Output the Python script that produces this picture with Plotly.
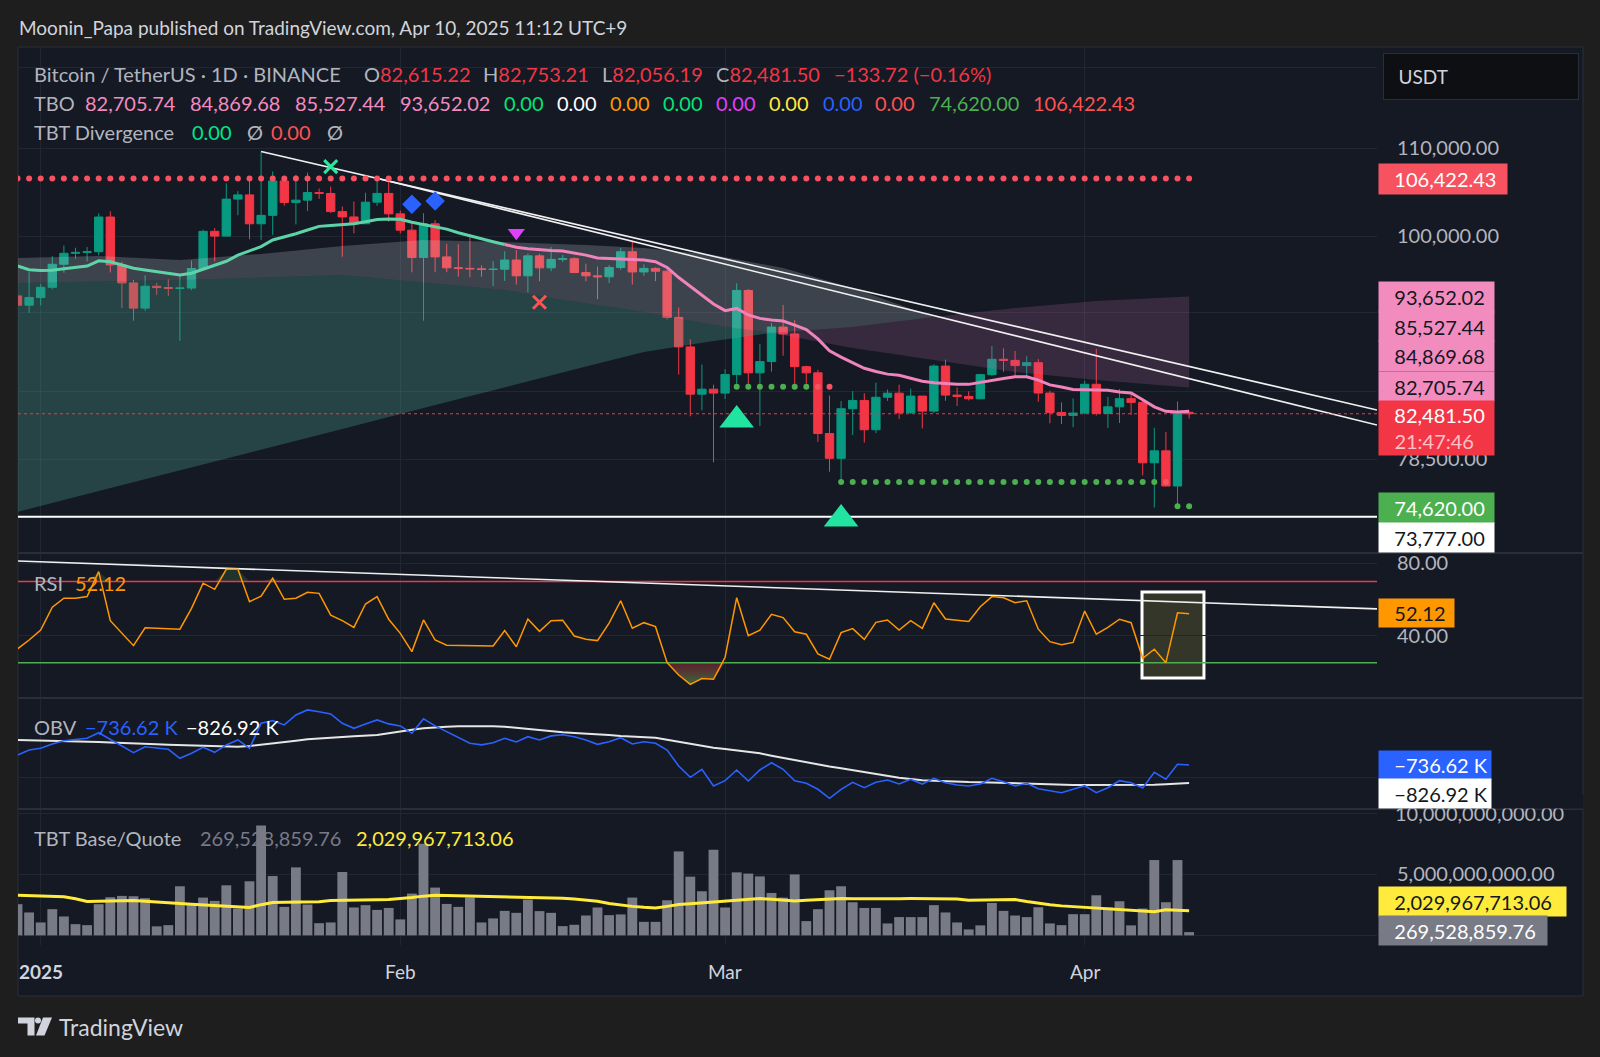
import pandas as pd
import plotly.graph_objects as go

# ---------------- data ----------------
dates = pd.date_range("2024-12-30", "2025-04-10", freq="D")

opens = [93716, 92779,
         93548, 94591, 96984, 98142, 98236, 98314, 102078, 96922, 95043, 92485, 94701, 94566, 94488, 94516, 96534,
         100505, 99987, 104077, 104556, 101331, 102260, 106144, 103706, 103960, 104820, 104714, 102682, 102087,
         101332, 103733, 104722,
         102429, 100635, 97700, 101328, 97763, 96612, 96554, 96506, 96444, 96462, 97430, 95778, 97870, 96608,
         97500, 97569, 96118, 95780, 95671, 96644, 98305, 96181, 96551, 96258, 91552, 88680, 84250, 84708,
         84349, 86064, 94270, 86221, 87281, 90606, 89931, 86801, 86222, 80734, 78595, 82932, 83680, 81066, 83968,
         84343, 82579, 84075, 82718, 86855, 84167, 84043, 83832, 86054, 87498, 87391, 86900, 87177, 84353, 82598,
         82335,
         82548, 85159, 82516, 83102, 83844, 83504, 78214, 79235, 76272, 82615.22]
highs = [94903, 96150,
         94950, 97839, 98976, 98734, 98813, 102482, 102712, 97258, 95349, 95836, 95051, 95400, 95900, 97371,
         100681, 100870, 105865, 104988, 106422.43, 109588, 107240, 106394, 106850, 107120, 105286, 105500,
         103260, 103800, 104800, 106457, 106012,
         102783, 101456, 102500, 101744, 99149, 99120, 100137, 96880, 97323, 98345, 98478, 98119, 98083, 98826,
         97972, 97725, 97046, 96753, 96899, 98711, 99475, 96980, 96650, 96500, 92540, 89414, 87000, 85120,
         86558, 95000, 94416, 88968, 91000, 92810, 91283, 86897, 86500, 84123, 83617, 84539, 84336, 85309, 84673,
         85117, 84756, 84075, 87022, 87454, 84850, 84513, 86129, 88766, 88543, 88292, 87786, 87515, 84567, 83505,
         83870,
         85487, 88500, 83998, 84720, 84229, 83750, 81243, 80867, 83588, 82753.21]
lows = [91317, 92000,
        92750, 94392, 96100, 97562, 97280, 97926, 96132, 92500, 91220, 92207, 93831, 93712, 89256, 94305, 96500,
        97300, 99950, 102277, 99651, 99550, 100119, 103339, 101262, 102750, 104106, 102520, 97777, 100272,
        101328, 103321, 101560,
        100279, 96150, 91231, 96150, 96155, 95676, 95620, 95689, 94713, 95256, 94876, 94088, 95217, 96253,
        97224, 96055, 95205, 93388, 95029, 96415, 94871, 95770, 95227, 91349, 86050, 82256, 82786, 78258,
        83824, 85050, 85117, 81390, 86334, 87836, 84667, 85218, 80000, 77459, 76606, 80607, 79940, 80766, 83639,
        82018, 82457, 81180, 82547, 83655, 83175, 83674, 83794, 85946, 86312, 85861, 85837, 83557, 81634, 81565,
        81293,
        82432, 82320, 81211, 81659, 82364, 77153, 74508, 76239, 74620, 82056.19]
closes = [92779, 93548,
          94591, 96984, 98142, 98236, 98314, 102078, 96922, 95043, 92485, 94701, 94566, 94488, 94516, 96534,
          100505, 99987, 104077, 104556, 101331, 102260, 106144, 103706, 103960, 104820, 104714, 102682, 102087,
          101332, 103733, 104722, 102429,
          100635, 97700, 101328, 97763, 96612, 96554, 96506, 96444, 96462, 97430, 95778, 97870, 96608, 97500,
          97569, 96118, 95780, 95671, 96644, 98305, 96181, 96551, 96258, 91552, 88680, 84250, 84708, 84349,
          86064, 94270, 86220, 87281, 90606, 89931, 86801, 86222, 80734, 78595, 82932, 83680, 81066, 83968, 84343,
          82579, 84075, 82718, 86854, 84167, 84043, 83832, 86054, 87498, 87391, 86900, 87177, 84353, 82598, 82335,
          82548,
          85159, 82516, 83102, 83843, 83504, 78214, 79235, 76272, 82615.22, 82481.50]

tbo_fast = [96800, 96420, 96320, 96350, 96520, 96650, 96800, 97350, 97250, 96900, 96560, 96380, 96200, 96000,
            95860, 96050, 96450, 96850, 97300, 97950, 98400, 98850, 99570, 99900, 100250, 100650, 101050, 101150,
            101230, 101330, 101550, 101800, 101850, 101830, 101500, 101250, 101050, 100750, 100350, 100000, 99700,
            99380, 99080, 98780, 98620, 98500, 98440, 98380, 98200, 97950, 97650, 97610, 97580, 97510, 97420,
            97250, 96650, 95600, 94700, 93800, 92900, 92230, 92450, 91800, 91460, 91300, 91200, 90800, 90350,
            89450, 88300, 87700, 87200, 86650, 86350, 86100, 86000, 85700, 85440, 85300, 85220, 85150, 85150,
            85350, 85550, 85700, 85850, 85850, 85550, 85100, 84900, 84680, 84650, 84650, 84600, 84450, 84360,
            83750, 83100, 82700, 82640, 82705.74]
FAST_SWITCH = 42  # index where the fast line turns from teal to pink

# cloud boundaries (day offset from 2025-01-01, price)
slow_days = [-2, 5, 12, 19, 26, 33, 40, 47, 52, 58, 63, 70, 77, 84, 91, 99]
slow_vals = [74160, 75860, 77610, 79350, 81130, 83000, 84910, 86810, 88190, 89250, 90020, 90610, 91600,
             92500, 93200, 93652.02]
medb_days = [-2, 12, 26, 40, 45, 52, 58, 63, 70, 77, 84, 91, 99]
medb_vals = [95040, 95350, 95860, 94320, 93300, 92100, 90810, 90020, 88570, 87430, 86300, 85560, 84869.68]
meda_days = [-2, 5, 12, 19, 26, 33, 40, 47, 52, 58, 64, 70, 77]
meda_vals = [97640, 97860, 97430, 98070, 98920, 99570, 99350, 99030, 98710, 97960, 96590, 94520, 91600]
CROSS_DAY = 63

rsi = [32.7, 37.6,
       43.1, 55.7, 60.7, 60.7, 61.6, 75.4, 48.3, 41.3, 34.5, 44.4, 44.0, 43.8, 43.6, 55.1, 69.0, 65.6, 76.7, 76.7,
       58.8, 61.9, 71.7, 60.1, 60.7, 64.0, 63.4, 51.4, 48.3, 44.6, 57.5, 61.6, 49.1,
       41.3, 31.2, 48.7, 37.6, 34.7, 34.5, 34.5, 34.3, 34.3, 42.8, 33.9, 49.2, 42.4, 48.3, 48.5, 39.8, 38.0, 37.3,
       46.9, 59.3, 44.1, 47.2, 45.0, 25.1, 18.3, 13.1, 16.3, 15.9,
       28.1, 61.0, 40.0, 43.1, 51.8, 50.0, 42.2, 40.8, 29.9, 27.0, 41.7, 43.9, 38.0, 47.4, 48.7, 43.1, 48.3, 44.1,
       58.2, 49.2, 48.7, 47.8, 56.0, 61.6, 61.0, 58.2, 59.3, 43.6, 36.7, 35.0, 36.3,
       53.6, 40.8, 44.6, 49.1, 47.2, 27.5, 32.5, 25.1, 52.7, 52.12]
RSI_UPPER, RSI_LOWER = 70, 25
rsi_trend = [81.3, 54.8]

obv = [-686.5, -661.5,
       -653, -631.5, -615, -608, -603, -575, -608, -641.5, -675, -645, -650, -658, -703, -678, -648, -673, -636,
       -611, -653, -528, -515, -536, -486, -461, -470, -481, -528, -553, -531, -511, -531,
       -541, -578, -506, -541, -570, -595, -628, -636, -625, -603, -621, -595, -611, -591, -585, -595, -611, -633,
       -620, -600, -631.5, -620, -628, -661.5, -741.5, -798, -758, -841.5,
       -815, -761.5, -816.5, -761.5, -725, -758, -815, -828, -858, -903, -858, -823, -850, -823, -811.5, -831.5,
       -808, -831.5, -803, -825, -836.5, -841.5, -831.5, -803, -820, -841.5, -828, -855, -865, -875, -858,
       -840, -875, -850, -815, -825, -851.5, -773, -808, -733, -736.62]
obv_ma = [-611, -612,
          -613, -614, -615, -617, -619, -621, -624, -627, -630, -632, -633, -635, -637, -639, -641, -643, -644,
          -645, -642, -636, -629, -622, -615, -608, -603, -599, -596, -593, -590, -587, -578,
          -568, -560, -553, -548, -545, -543, -542, -542, -543, -545, -551, -557, -564, -570, -573, -576, -579,
          -582, -587, -592, -595, -597, -600, -610, -620, -630, -642, -650,
          -657, -664, -671, -678, -690, -701, -712, -724, -734, -744, -753, -763, -773, -783, -792, -800, -807,
          -813, -815, -818, -820, -822, -823, -825, -827, -829, -831, -833, -834, -835, -836,
          -837, -837, -837, -837, -836, -836, -835, -833, -830, -826.92]

volume_b = [2.56, 1.88,
            1.06, 2.15, 1.55, 0.92, 0.84, 2.56, 3.13, 3.24, 3.21, 3.05, 0.74, 0.84, 4.03, 2.61, 3.10, 2.83, 4.11,
            2.20, 4.44, 9.01, 4.87, 2.34, 5.58, 2.53, 1.00, 1.06, 5.20, 2.29, 2.48, 2.09, 2.25,
            1.31, 3.43, 7.52, 3.92, 2.58, 2.34, 3.10, 1.06, 1.39, 2.01, 1.85, 2.94, 1.99, 1.85, 0.76, 0.87, 1.63,
            2.29, 1.66, 1.72, 3.10, 1.11, 1.11, 2.88, 6.89, 4.82, 3.62, 7.03,
            2.29, 5.17, 5.07, 4.84, 3.48, 3.10, 5.00, 1.17, 2.15, 3.70, 4.03, 2.72, 2.25, 2.25, 0.98, 1.50, 1.50,
            1.50, 2.48, 1.88, 1.06, 0.49, 0.82, 2.66, 2.01, 1.63, 1.50, 2.31, 0.98, 0.84, 1.74,
            1.74, 3.29, 2.29, 2.80, 0.82, 2.20, 6.18, 2.72, 6.18, 0.2695288598]
volume_ma_b = [3.29, 3.27,
               3.24, 3.20, 3.17, 3.00, 2.78, 2.80, 2.84, 2.87, 2.86, 2.80, 2.72, 2.66, 2.61, 2.56, 2.50, 2.45,
               2.42, 2.38, 2.29, 2.52, 2.70, 2.72, 2.74, 2.75, 2.76, 2.86, 2.89, 2.90, 2.91, 2.92, 2.94,
               3.00, 3.10, 3.22, 3.29, 3.28, 3.26, 3.24, 3.22, 3.19, 3.16, 3.14, 3.12, 3.11, 3.10, 3.05, 2.98,
               2.90, 2.80, 2.62, 2.48, 2.38, 2.30, 2.25, 2.38, 2.53, 2.60, 2.67, 2.74,
               2.78, 2.88, 2.96, 3.02, 2.96, 2.88, 2.83, 2.88, 2.93, 2.98, 3.02, 3.00, 2.99, 2.97, 2.99, 3.01,
               3.02, 3.02, 3.01, 3.00, 2.99, 2.88, 2.90, 2.92, 2.93, 2.94, 2.78, 2.62, 2.52, 2.42, 2.36,
               2.30, 2.24, 2.18, 2.10, 2.02, 1.97, 1.93, 2.10, 2.08, 2.029967713]

# levels / signals
resistance_level = 106422.43
support_level = 73777.00
last_close = 82481.50
trend_a = [(19, 109588), (115.198, 82820)]
trend_b = [(29, 106457), (115.198, 81480)]
dots_mid_green = ([60, 61, 62, 63, 64, 65, 66], 84940)
dots_mid_red = ([67, 68], 84940)
dots_low_green = (list(range(69, 97)), 76606)
dots_low_red = ([97], 76606)
dots_last_green = ([98, 99], 74620)
sig_x_green = (25, 107800)
sig_diamonds = ([32, 34], [103490, 103870])
sig_tri_down = (41, 100360)
sig_x_red = (43, 93070)
sig_tri_up = ([60, 69], [81930, 73590])

date_ticks = ["2025-01-01", "2025-02-01", "2025-03-01", "2025-04-01"]
date_labels = ["<b>2025</b>", "Feb", "Mar", "Apr"]

for arr in (opens, highs, lows, closes, tbo_fast, rsi, obv, obv_ma, volume_b, volume_ma_b):
    assert len(arr) == len(dates), len(arr)

# ---------------- layout helpers ----------------
W, H = 1600, 1057
LP, RP, TP, BP = 18, 1377, 47, 945
FONT = "Lato, 'Noto Sans', sans-serif"
BG = "#151924"
OUT = "#1e1e1e"
GRID = "#222633"
TXT = "#b2b5be"


def px_x(x):
    return (x - LP) / (RP - LP)


def px_y(y):
    return (BP - y) / (BP - TP)


def day(d):
    return pd.Timestamp("2025-01-01") + pd.Timedelta(days=d)


X0 = day(-1.957)
X1 = day(115.198)

D_PRICE = [px_y(553), 1.0]
D_RSI = [px_y(698), px_y(553)]
D_OBV = [px_y(809), px_y(698)]
D_VOL = [0.0, px_y(809)]

fig = go.Figure()

# ---------------- price pane ----------------
fig.add_trace(go.Candlestick(
    x=dates, open=opens, high=highs, low=lows, close=closes,
    increasing=dict(line=dict(color="#089981", width=1), fillcolor="#089981"),
    decreasing=dict(line=dict(color="#f23645", width=1), fillcolor="#f23645"),
    whiskerwidth=0, xaxis="x", yaxis="y", showlegend=False, hoverinfo="skip"))


def poly(upper_d, upper_v, lower_d, lower_v, color):
    xs = [day(d) for d in upper_d] + [day(d) for d in lower_d[::-1]]
    ys = list(upper_v) + list(lower_v[::-1])
    fig.add_trace(go.Scatter(x=xs, y=ys, fill="toself", fillcolor=color, mode="lines",
                             line=dict(width=0), xaxis="x", yaxis="y", showlegend=False, hoverinfo="skip"))


# teal cloud (before cross) between medB and slow
tb_d = [d for d in medb_days if d <= CROSS_DAY]
tb_v = [v for d, v in zip(medb_days, medb_vals) if d <= CROSS_DAY]
ts_d = [d for d in slow_days if d <= CROSS_DAY]
ts_v = [v for d, v in zip(slow_days, slow_vals) if d <= CROSS_DAY]
poly(tb_d, tb_v, ts_d, ts_v, "rgba(80,170,150,0.30)")
# mauve cloud (after cross) between slow and medB
ms_d = [d for d in slow_days if d >= CROSS_DAY]
ms_v = [v for d, v in zip(slow_days, slow_vals) if d >= CROSS_DAY]
mb_d = [d for d in medb_days if d >= CROSS_DAY]
mb_v = [v for d, v in zip(medb_days, medb_vals) if d >= CROSS_DAY]
poly(ms_d, ms_v, mb_d, mb_v, "rgba(200,110,170,0.20)")
# light band between medA and (medB, then slow)
lo_d = [d for d in medb_days if d < CROSS_DAY] + [d for d in slow_days if CROSS_DAY <= d <= meda_days[-1]]
lo_v = [v for d, v in zip(medb_days, medb_vals) if d < CROSS_DAY] + \
       [v for d, v in zip(slow_days, slow_vals) if CROSS_DAY <= d <= meda_days[-1]]
poly(meda_days, meda_vals, lo_d, lo_v, "rgba(200,220,220,0.22)")

# trend lines
for seg in (trend_a, trend_b):
    fig.add_trace(go.Scatter(x=[day(seg[0][0]), day(seg[1][0])], y=[seg[0][1], seg[1][1]], mode="lines",
                             line=dict(color="#f0f0f0", width=1.6), xaxis="x", yaxis="y",
                             showlegend=False, hoverinfo="skip"))
# horizontal lines
fig.add_trace(go.Scatter(x=[X0, X1], y=[support_level] * 2, mode="lines", line=dict(color="#ffffff", width=2),
                         xaxis="x", yaxis="y", showlegend=False, hoverinfo="skip"))
fig.add_trace(go.Scatter(x=[X0, X1], y=[last_close] * 2, mode="lines",
                         line=dict(color="#f23645", width=1.2, dash="dot"),
                         xaxis="x", yaxis="y", showlegend=False, hoverinfo="skip"))
# resistance dots
fig.add_trace(go.Scatter(x=dates, y=[resistance_level] * len(dates), mode="markers",
                         marker=dict(color="#f7525f", size=6), xaxis="x", yaxis="y",
                         showlegend=False, hoverinfo="skip"))
# fast line
fig.add_trace(go.Scatter(x=dates[:FAST_SWITCH + 1], y=tbo_fast[:FAST_SWITCH + 1], mode="lines",
                         line=dict(color="#5fd3a8", width=3), xaxis="x", yaxis="y",
                         showlegend=False, hoverinfo="skip"))
fig.add_trace(go.Scatter(x=dates[FAST_SWITCH:], y=tbo_fast[FAST_SWITCH:], mode="lines",
                         line=dict(color="#f083bb", width=3), xaxis="x", yaxis="y",
                         showlegend=False, hoverinfo="skip"))
# support dots
for (ds, lvl), col in ((dots_mid_green, "#4caf50"), (dots_mid_red, "#f7525f"), (dots_low_green, "#4caf50"),
                       (dots_low_red, "#f7525f"), (dots_last_green, "#4caf50")):
    fig.add_trace(go.Scatter(x=[day(d) for d in ds], y=[lvl] * len(ds), mode="markers",
                             marker=dict(color=col, size=6), xaxis="x", yaxis="y",
                             showlegend=False, hoverinfo="skip"))
# signals
fig.add_trace(go.Scatter(x=[day(sig_x_green[0])], y=[sig_x_green[1]], mode="markers",
                         marker=dict(symbol="x-thin", size=13, line=dict(color="#2ee6a0", width=3)),
                         xaxis="x", yaxis="y", showlegend=False, hoverinfo="skip"))
fig.add_trace(go.Scatter(x=[day(d) for d in sig_diamonds[0]], y=sig_diamonds[1], mode="markers",
                         marker=dict(symbol="diamond", size=15, color="#2962ff"),
                         xaxis="x", yaxis="y", showlegend=False, hoverinfo="skip"))
fig.add_trace(go.Scatter(x=[day(sig_tri_down[0])], y=[sig_tri_down[1]], mode="markers",
                         marker=dict(symbol="triangle-down", size=15, color="#e040fb"),
                         xaxis="x", yaxis="y", showlegend=False, hoverinfo="skip"))
fig.add_trace(go.Scatter(x=[day(sig_x_red[0])], y=[sig_x_red[1]], mode="markers",
                         marker=dict(symbol="x-thin", size=13, line=dict(color="#ff5252", width=3)),
                         xaxis="x", yaxis="y", showlegend=False, hoverinfo="skip"))
fig.add_trace(go.Scatter(x=[day(d) for d in sig_tri_up[0]], y=sig_tri_up[1], mode="markers",
                         marker=dict(symbol="triangle-up", size=30, color="#22e4a0"),
                         xaxis="x", yaxis="y", showlegend=False, hoverinfo="skip"))

# ---------------- RSI pane ----------------
rsi_low_clip = [min(v, RSI_LOWER) for v in rsi]
rsi_high_clip = [max(v, RSI_UPPER) for v in rsi]
fig.add_trace(go.Scatter(x=dates, y=[RSI_LOWER] * len(dates), mode="lines", line=dict(width=0),
                         xaxis="x2", yaxis="y2", showlegend=False, hoverinfo="skip"))
fig.add_trace(go.Scatter(x=dates, y=rsi_low_clip, mode="lines", line=dict(width=0), fill="tonexty",
                         fillgradient=dict(type="vertical",
                                           colorscale=[[0, "rgba(76,175,80,0.55)"], [1, "rgba(242,54,69,0.30)"]]),
                         xaxis="x2", yaxis="y2", showlegend=False, hoverinfo="skip"))
fig.add_trace(go.Scatter(x=dates, y=[RSI_UPPER] * len(dates), mode="lines", line=dict(width=0),
                         xaxis="x2", yaxis="y2", showlegend=False, hoverinfo="skip"))
fig.add_trace(go.Scatter(x=dates, y=rsi_high_clip, mode="lines", line=dict(width=0), fill="tonexty",
                         fillcolor="rgba(76,175,80,0.18)",
                         xaxis="x2", yaxis="y2", showlegend=False, hoverinfo="skip"))
fig.add_trace(go.Scatter(x=[X0, X1], y=[RSI_UPPER] * 2, mode="lines", line=dict(color="#f23645", width=1.5),
                         xaxis="x2", yaxis="y2", showlegend=False, hoverinfo="skip"))
fig.add_trace(go.Scatter(x=[X0, X1], y=[RSI_LOWER] * 2, mode="lines", line=dict(color="#4caf50", width=1.5),
                         xaxis="x2", yaxis="y2", showlegend=False, hoverinfo="skip"))
fig.add_trace(go.Scatter(x=[X0, X1], y=rsi_trend, mode="lines", line=dict(color="#f0f0f0", width=1.6),
                         xaxis="x2", yaxis="y2", showlegend=False, hoverinfo="skip"))
fig.add_trace(go.Scatter(x=dates, y=rsi, mode="lines", line=dict(color="#ff9800", width=1.5),
                         xaxis="x2", yaxis="y2", showlegend=False, hoverinfo="skip"))

# ---------------- OBV pane ----------------
fig.add_trace(go.Scatter(x=dates, y=obv_ma, mode="lines", line=dict(color="#e6e6e6", width=2),
                         xaxis="x3", yaxis="y3", showlegend=False, hoverinfo="skip"))
fig.add_trace(go.Scatter(x=dates, y=obv, mode="lines", line=dict(color="#2962ff", width=1.6),
                         xaxis="x3", yaxis="y3", showlegend=False, hoverinfo="skip"))

# ---------------- volume pane ----------------
fig.add_trace(go.Bar(x=dates, y=[v * 1e9 for v in volume_b], marker=dict(color="#787b86", line=dict(width=0)),
                     xaxis="x4", yaxis="y4", showlegend=False, hoverinfo="skip"))
fig.add_trace(go.Scatter(x=dates, y=[v * 1e9 for v in volume_ma_b], mode="lines",
                         line=dict(color="#ffeb3b", width=3),
                         xaxis="x4", yaxis="y4", showlegend=False, hoverinfo="skip"))

# ---------------- axes ----------------
xcommon = dict(range=[X0, X1], type="date", showgrid=True, gridcolor=GRID, gridwidth=1,
               tickvals=date_ticks, showticklabels=False, ticks="", zeroline=False, showline=False,
               domain=[0, 1])
ycommon = dict(side="right", showgrid=True, gridcolor=GRID, gridwidth=1, zeroline=False, showline=False,
               ticks="outside", ticklen=15, tickcolor="rgba(0,0,0,0)",
               tickfont=dict(family=FONT, size=20, color=TXT))

fig.update_layout(
    xaxis=dict(**xcommon, anchor="y", rangeslider=dict(visible=False)),
    xaxis2=dict(**xcommon, anchor="y2", matches="x"),
    xaxis3=dict(**xcommon, anchor="y3", matches="x"),
    xaxis4=dict(**xcommon, anchor="y4", matches="x"),
    # gridlines whose labels are hidden behind value boxes in the reference carry empty text
    yaxis=dict(**ycommon, domain=D_PRICE, anchor="x", type="log", range=[4.85084, 5.08893],
               tickvals=[120000, 110000, 100000, 92000, 84500, 78500],
               ticktext=["", "110,000.00", "100,000.00", "", "", "78,500.00"]),
    yaxis2=dict(**ycommon, domain=D_RSI, anchor="x2", range=[5.58, 85.69],
                tickvals=[80, 40], ticktext=["80.00", "40.00"]),
    yaxis3=dict(**ycommon, domain=D_OBV, anchor="x3", range=[-956.5, -401.5],
                tickvals=[-800, -400], ticktext=["", ""]),
    yaxis4=dict(**ycommon, domain=D_VOL, anchor="x4", range=[-0.79e9, 10.37e9],
                tickvals=[0, 5e9, 1e10], ticktext=["", "5,000,000,000.00", ""]),
)

# ---------------- shapes ----------------
shapes = []
shapes.append(dict(type="rect", xref="paper", yref="paper", x0=px_x(18), x1=px_x(1583), y0=px_y(996),
                   y1=px_y(47), fillcolor=BG, line=dict(color="#2a2e39", width=1), layer="below"))
for ysep in (553, 698, 809):
    shapes.append(dict(type="line", xref="paper", yref="paper", x0=px_x(18), x1=px_x(1583), y0=px_y(ysep),
                       y1=px_y(ysep), line=dict(color="#2a2e39", width=2), layer="above"))
# RSI highlight box
shapes.append(dict(type="rect", xref="x2", yref="y2", x0=day(94.94), x1=day(100.28), y0=16.6, y1=64.1,
                   fillcolor="rgba(110,110,50,0.35)", line=dict(color="#ffffff", width=3), layer="below"))


# TradingView logo
def path(points):
    return "M " + " L ".join(f"{px_x(x):.5f},{px_y(y):.5f}" for x, y in points) + " Z"


logo_col = "#d1d4dc"
shapes.append(dict(type="path", xref="paper", yref="paper", fillcolor=logo_col, line=dict(width=0),
                   path=path([(18, 1017.5), (34.5, 1017.5), (34.5, 1035.5), (27.5, 1035.5), (27.5, 1023.5),
                              (18, 1023.5)])))
shapes.append(dict(type="circle", xref="paper", yref="paper", fillcolor=logo_col, line=dict(width=0),
                   x0=px_x(35), x1=px_x(41), y0=px_y(1023.5), y1=px_y(1017.5)))
shapes.append(dict(type="path", xref="paper", yref="paper", fillcolor=logo_col, line=dict(width=0),
                   path=path([(43, 1017.5), (52, 1017.5), (44.5, 1035.5), (36, 1035.5)])))
fig.update_layout(shapes=shapes)

# ---------------- annotations ----------------
ann = []


def text(x, y, s, size=20, color=TXT):
    ann.append(dict(xref="paper", yref="paper", x=px_x(x), y=px_y(y), xanchor="left", yanchor="middle",
                    text=s, showarrow=False, font=dict(family=FONT, size=size, color=color)))


def box(s, x0, x1, y0, y1, bg, fg, size=20, align="left", pad="&nbsp;&nbsp;&nbsp;", border=None):
    d = dict(xref="paper", yref="paper", x=px_x(x0), y=px_y((y0 + y1) / 2), xanchor="left", yanchor="middle",
             width=x1 - x0, height=y1 - y0, bgcolor=bg, text=pad + s, showarrow=False, align=align,
             valign="middle", borderpad=0, font=dict(family=FONT, size=size, color=fg))
    if border:
        d.update(bordercolor=border, borderwidth=1)
    ann.append(d)


def sp(s, c):
    return f"<span style='color:{c}'>{s}</span>"


RED = "#f23645"
PINK = "#f28cbf"
# header
text(17, 28, "Moonin_Papa published on TradingView.com, Apr 10, 2025 11:12 UTC+9", size=19, color="#d1d4dc")
# legend line 1
text(32, 74, "Bitcoin / TetherUS · 1D · BINANCE")
text(362, 74, "O" + sp("82,615.22", RED))
text(481, 74, "H" + sp("82,753.21", RED))
text(600, 74, "L" + sp("82,056.19", RED))
text(714, 74, "C" + sp("82,481.50", RED))
text(832, 74, sp("−133.72 (−0.16%)", RED))
# legend line 2
text(32, 103, "TBO")
for xx, s, c in ((83, "82,705.74", PINK), (188, "84,869.68", PINK), (293, "85,527.44", PINK),
                 (398, "93,652.02", PINK), (502, "0.00", "#00e676"), (555, "0.00", "#ffffff"),
                 (608, "0.00", "#ff9800"), (661, "0.00", "#00e676"), (714, "0.00", "#e040fb"),
                 (767, "0.00", "#ffeb3b"), (821, "0.00", "#2962ff"), (873, "0.00", "#ff5252"),
                 (927, "74,620.00", "#4caf50"), (1031, "106,422.43", "#ff5252")):
    text(xx, 103, s, color=c)
# legend line 3
text(32, 132, "TBT Divergence")
text(190, 132, "0.00", color="#00e68a")
text(245, 132, "Ø")
text(269, 132, "0.00", color="#ff5252")
text(325, 132, "Ø")
# pane legends
text(32, 583, "RSI")
text(73, 583, "52.12", color="#ff9800")
text(32, 727, "OBV")
text(83, 727, "−736.62 K", color="#2962ff")
text(184, 727, "−826.92 K", color="#ffffff")
text(32, 838, "TBT Base/Quote")
text(198, 838, "269,528,859.76", color="#787b86")
text(354, 838, "2,029,967,713.06", color="#ffeb3b")

# volume scale top label, clipped at the pane top like the reference
text(1393, 813, "10,000,000,000.00")
box("&nbsp;", 1378, 1582, 795, 808, BG, BG, pad="")

# right scale boxes
box("USDT", 1383, 1577, 54, 99, "#0e0f12", "#d1d4dc", size=19, border="#2a2e39")
box("106,422.43", 1378, 1506, 164, 194, "#f7525f", "#ffffff")
box("93,652.02", 1378, 1493, 282, 312, "#f28cbf", "#131722")
box("85,527.44", 1378, 1493, 312, 341, "#f28cbf", "#131722")
box("84,869.68", 1378, 1493, 341, 371, "#f28cbf", "#131722")
box("82,705.74", 1378, 1493, 372, 401, "#f28cbf", "#131722")
box("82,481.50<br>&nbsp;&nbsp;&nbsp;" + sp("21:47:46", "#ffc2c7"), 1378, 1493, 401, 455, "#f23645", "#ffffff")
box("74,620.00", 1378, 1493, 493, 523, "#4caf50", "#ffffff")
box("73,777.00", 1378, 1493, 523, 552, "#ffffff", "#131722")
box("52.12", 1378, 1453, 599, 627, "#ff9800", "#131722")
box("−736.62 K", 1378, 1490, 751, 779, "#2962ff", "#ffffff")
box("−826.92 K", 1378, 1490, 779, 808, "#ffffff", "#131722")
box("2,029,967,713.06", 1378, 1565, 887, 916, "#ffeb3b", "#131722")
box("269,528,859.76", 1378, 1546, 916, 945, "#787b86", "#ffffff")

# date labels
for dt, lab in zip(date_ticks, date_labels):
    ann.append(dict(xref="x4", yref="paper", x=dt, y=px_y(972), xanchor="center", yanchor="middle",
                    text=lab, showarrow=False, font=dict(family=FONT, size=19, color="#d1d4dc")))
# logo text
text(57, 1027, "TradingView", size=23, color="#d1d4dc")

fig.update_layout(
    annotations=ann,
    width=W, height=H,
    margin=dict(l=LP, r=W - RP, t=TP, b=H - BP, pad=0),
    paper_bgcolor=OUT, plot_bgcolor=BG,
    showlegend=False, boxgap=0.28, boxgroupgap=0, bargap=0.15,
    font=dict(family=FONT, color=TXT),
    hovermode=False,
)

fig.write_html("out.html",
               config={"displayModeBar": False, "staticPlot": True},
               post_script="document.body.style.margin='0';document.body.style.background='#1e1e1e';"
                           "document.documentElement.style.background='#1e1e1e';")
